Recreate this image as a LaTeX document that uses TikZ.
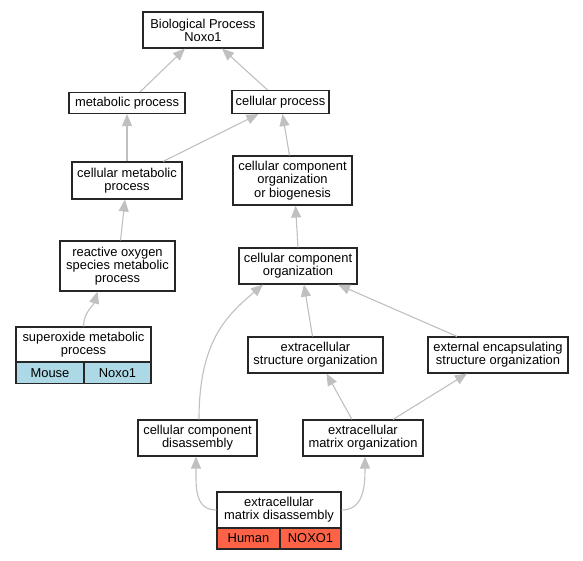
\documentclass[tikz,border=0pt]{standalone}
\usepackage{fontspec}
\setmainfont{Liberation Sans}
\usetikzlibrary{arrows.meta}
\definecolor{edgegray}{HTML}{C0C0C0}
\definecolor{mouseblue}{HTML}{ADD8E6}
\definecolor{humanred}{HTML}{FF6347}
\begin{document}
\begin{tikzpicture}[x=1pt,y=1pt,
  termbox/.style={draw=black!85, line width=1.1pt, fill=white, inner sep=0pt, align=center,
    font=\fontsize{12.9}{13.2}\selectfont, minimum width=#1},
  cellbox/.style={termbox=#1, minimum height=21pt},
  edge/.style={draw=edgegray, line width=1.1pt, -{Triangle[length=12pt,width=10pt,fill=edgegray]}}
]
\useasboundingbox (0,0) rectangle (583,-560);
% nodes
\node[termbox=120pt, minimum height=36pt] (bp) at (203,-30) {Biological Process\\Noxo1};
\node[termbox=116pt, minimum height=21pt] (mp) at (127,-103) {metabolic process};
\node[termbox=97pt, minimum height=23pt] (cp) at (280.5,-102) {cellular process};
\node[termbox=110pt, minimum height=37pt] (cmp) at (127,-180.5) {cellular metabolic\\process};
\node[termbox=119pt, minimum height=49pt] (ccoob) at (292.5,-180.5) {cellular component\\organization\\or biogenesis};
\node[termbox=118pt, minimum height=36pt] (cco) at (298,-266) {cellular component\\organization};
\node[termbox=115pt, minimum height=50pt] (ros) at (117.5,-266) {reactive oxygen\\species metabolic\\process};
\node[termbox=135pt, minimum height=35pt] (so) at (83.5,-344.5) {superoxide metabolic\\process};
\node[cellbox=68pt, fill=mouseblue] (somouse) at (50,-373) {Mouse};
\node[cellbox=67pt, fill=mouseblue] (sonoxo) at (117.5,-373) {Noxo1};
\node[termbox=135pt, minimum height=36pt] (eso) at (315.5,-355) {extracellular\\structure organization};
\node[termbox=140pt, minimum height=36pt] (ees) at (498,-355) {external encapsulating\\structure organization};
\node[termbox=119pt, minimum height=36pt] (ccd) at (197.5,-438) {cellular component\\disassembly};
\node[termbox=120pt, minimum height=36pt] (ecmo) at (363,-438) {extracellular\\matrix organization};
\node[termbox=124pt, minimum height=36pt] (ecmd) at (279,-510) {extracellular\\matrix disassembly};
\node[cellbox=63pt, fill=humanred] (ecmdhuman) at (248.5,-538.5) {Human};
\node[cellbox=61pt, fill=humanred] (ecmdnoxo) at (310.5,-538.5) {NOXO1};
% edges
\draw[edge] ([xshift=13pt]mp.north) -- ([xshift=-18pt]bp.south);
\draw[edge] ([xshift=-13pt]cp.north) -- ([xshift=19pt]bp.south);
\draw[edge] (cmp.north) -- (mp.south);
\draw[edge] ([xshift=36pt]cmp.north) -- ([xshift=-22pt]cp.south);
\draw[edge] ([xshift=-3pt]ccoob.north) -- ([xshift=2pt]cp.south);
\draw[edge] (cco.north) -- ([xshift=3pt]ccoob.south);
\draw[edge] ([xshift=3pt]ros.north) -- ([xshift=-2pt]cmp.south);
\draw[edge] (so.north) .. controls +(0,14) and +(-4,-14) .. ([xshift=-20pt]ros.south);
\draw[edge] ([xshift=-3pt]eso.north) -- ([xshift=6pt]cco.south);
\draw[edge] ([xshift=-41pt]ees.north) -- ([xshift=40pt]cco.south);
\draw[edge] ([xshift=1.5pt]ccd.north) .. controls +(0,80) and +(-35,-30) .. ([xshift=-35pt]cco.south);
\draw[edge] ([xshift=-11pt]ecmo.north) -- ([xshift=11pt]eso.south);
\draw[edge] ([xshift=30pt]ecmo.north) -- ([xshift=-31pt]ees.south);
\draw[edge] (ecmd.west) .. controls +(-22,0) and +(0,-30) .. ([xshift=-1.5pt]ccd.south);
\draw[edge] (ecmd.east) .. controls +(22,0) and +(0,-30) .. ([xshift=2pt]ecmo.south);
\end{tikzpicture}
\end{document}
